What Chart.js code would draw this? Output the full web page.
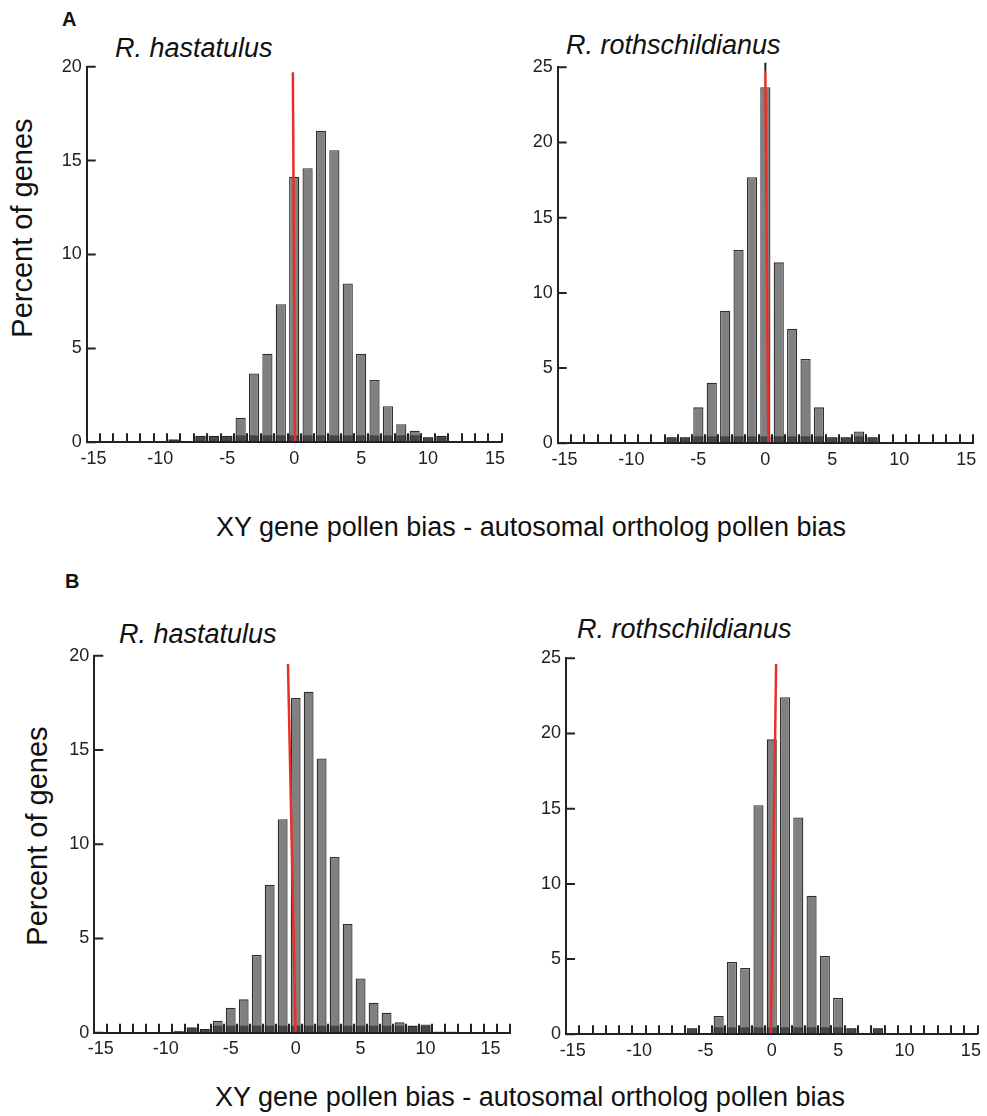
<!DOCTYPE html>
<html>
<head>
<meta charset="utf-8">
<script src="https://cdn.jsdelivr.net/npm/chart.js@4.4.1/dist/chart.umd.min.js"></script>
<style>
  html, body { margin: 0; padding: 0; background: #fff; }
  body { width: 987px; height: 1116px; position: relative; overflow: hidden;
         font-family: "Liberation Sans", Arial, Helvetica, sans-serif; color: #111; }
  .t { position: absolute; white-space: nowrap; line-height: 1; }
  .panel { font-weight: bold; font-size: 20px; }
  .sp { font-style: italic; font-size: 27px; }
  .xt { font-size: 27px; transform: translateX(-50%); }
  .yt { font-size: 29px; transform: translate(-50%, -50%) rotate(-90deg); }
  canvas { position: absolute; }
</style>
</head>
<body>
<div class="t panel" style="left:62px; top:9px;">A</div>
<div class="t panel" style="left:65px; top:571px;">B</div>

<div class="t sp" style="left:115px; top:35px;">R. hastatulus</div>
<div class="t sp" style="left:566px; top:32px;">R. rothschildianus</div>
<div class="t sp" style="left:119px; top:621px;">R. hastatulus</div>
<div class="t sp" style="left:577px; top:616px;">R. rothschildianus</div>

<div class="t yt" style="left:22px; top:228px;">Percent of genes</div>
<div class="t yt" style="left:37px; top:836px;">Percent of genes</div>

<div class="t xt" style="left:531px; top:514px;">XY gene pollen bias - autosomal ortholog pollen bias</div>
<div class="t xt" style="left:530px; top:1084px;">XY gene pollen bias - autosomal ortholog pollen bias</div>

<canvas id="cA1" width="510" height="450" style="left:20px; top:40px;"></canvas>
<canvas id="cA2" width="497" height="450" style="left:490px; top:40px;"></canvas>
<canvas id="cB1" width="510" height="450" style="left:20px; top:630px;"></canvas>
<canvas id="cB2" width="497" height="450" style="left:490px; top:630px;"></canvas>

<script>
// ---------------- DATA ----------------
// histogram bin centres (units of the x axis)
const bins = [-15,-14,-13,-12,-11,-10,-9,-8,-7,-6,-5,-4,-3,-2,-1,0,1,2,3,4,5,6,7,8,9,10,11,12,13,14,15];
// labelled x ticks and y ticks
const xTickLabels = [-15,-10,-5,0,5,10,15];
const yTicks20 = [0,5,10,15,20];
const yTicks25 = [0,5,10,15,20,25];

// Panel A – percent of genes per bin
const hastatulusA = [null,null,null,null,null,null,0.15,0.05,0.34,0.34,0.34,1.31,3.67,4.72,7.35,14.14,14.59,16.59,15.55,8.46,4.72,3.32,1.92,0.96,0.62,0.27,0.34,0.05,0.05,null,null];
const rothschildianusA = [null,null,null,null,null,null,null,null,0.4,0.4,2.39,4.03,8.82,12.85,17.69,23.67,12.03,7.62,5.61,2.39,0.4,0.4,0.78,0.4,null,null,null,null,null,null,null];
// Panel B – percent of genes per bin
const hastatulusB = [null,null,null,null,null,null,0.08,0.28,0.19,0.64,1.33,1.77,4.12,7.85,11.32,17.75,18.09,14.55,9.32,5.76,2.88,1.59,1.06,0.55,0.37,0.44,0.05,0.05,null,null,null];
const rothschildianusB = [null,null,null,null,null,null,null,null,null,0.4,null,1.22,4.81,4.41,15.23,19.61,22.41,14.41,9.22,5.21,2.42,0.4,null,0.4,null,null,null,null,null,null,null];

// red reference lines: [top, bottom] x and y values
const redX_hastA = [-0.1, 0.06];   const redY_hastA = [19.7, 0];
const redX_rothA = [0.0, 0.22];    const redY_rothA = [24.7, 0];
const blackX_rothA = [0.0, 0.0];   const blackY_rothA = [25.3, 24.7];
const redX_hastB = [-0.59, 0.0];   const redY_hastB = [19.56, 0];
const redX_rothB = [0.33, -0.07];  const redY_rothB = [24.62, 0];

// ---------------- DRAWING ----------------
const INK = '#222222';
const FONT = '"Liberation Sans", Arial, Helvetica, sans-serif';

const axisDeco = {
  id: 'axisDeco',
  afterDatasetDraw(chart, args) {
    if (args.index !== 0) return;
    const { ctx, chartArea: a, scales: { x, y } } = chart;
    const ds = chart.data.datasets[0].data;
    ctx.save();
    // dark foot on each bar
    ctx.fillStyle = 'rgba(30,30,30,0.6)';
    args.meta.data.forEach((el, i) => {
      if (ds[i].y == null) return;
      const p = el.getProps(['x', 'y', 'base', 'width'], true);
      const h = Math.min(7, p.base - p.y);
      ctx.fillRect(p.x - p.width / 2, p.base - h, p.width, h);
    });
    // inward minor ticks on x axis at bin edges
    ctx.strokeStyle = INK;
    ctx.lineWidth = 2;
    ctx.beginPath();
    for (let v = x.min + 1; v <= x.max + 1e-6; v += 1) {
      const px = Math.round(x.getPixelForValue(v));
      ctx.moveTo(px, a.bottom);
      ctx.lineTo(px, a.bottom - 9);
    }
    // inward ticks on y axis
    y.ticks.forEach(t => {
      const py = y.getPixelForValue(t.value);
      ctx.moveTo(a.left, py);
      ctx.lineTo(a.left + 9, py);
    });
    ctx.stroke();
    ctx.restore();
  }
};

function makeChart(id, values, yTicks, yMax, xMax, lines, canvasBox, area) {
  const [cl, ct, cw, ch] = canvasBox;
  const [L, R, T, B] = area;
  const yW = L - cl, padTop = T - ct, padRight = cl + cw - R, xH = 40, padBottom = ct + ch - B - xH;
  const datasets = [{
    type: 'bar',
    data: bins.map((b, i) => ({ x: b, y: values[i] })),
    backgroundColor: '#808080',
    borderColor: '#2e2e2e',
    borderWidth: 1.3,
    barPercentage: 0.76,
    categoryPercentage: 1.0,
    order: 2
  }];
  lines.forEach(l => datasets.push({
    type: 'line',
    data: l.xs.map((xv, i) => ({ x: xv, y: l.ys[i] })),
    borderColor: l.color,
    borderWidth: l.width,
    pointRadius: 0,
    fill: false,
    clip: false,
    order: 0
  }));
  return new Chart(document.getElementById(id), {
    type: 'bar',
    data: { datasets },
    plugins: [axisDeco],
    options: {
      responsive: false,
      animation: false,
      devicePixelRatio: 1,
      layout: { padding: { left: 0, top: padTop, right: padRight, bottom: padBottom } },
      plugins: { legend: { display: false }, tooltip: { enabled: false } },
      scales: {
        x: {
          type: 'linear',
          min: -15.5, max: xMax,
          offset: false,
          grid: { display: false, drawTicks: false },
          border: { display: true, color: INK, width: 2, z: 1 },
          afterBuildTicks: s => { s.ticks = xTickLabels.map(v => ({ value: v })); },
          afterFit: s => { s.height = xH; },
          ticks: { color: INK, font: { family: FONT, size: 18 }, padding: 6, maxRotation: 0, autoSkip: false }
        },
        y: {
          type: 'linear',
          min: 0, max: yMax,
          grid: { display: false, drawTicks: false },
          border: { display: true, color: INK, width: 2, z: 1 },
          afterBuildTicks: s => { s.ticks = yTicks.map(v => ({ value: v })); },
          afterFit: s => { s.width = yW; },
          ticks: { color: INK, font: { family: FONT, size: 18 }, padding: 5 }
        }
      }
    }
  });
}

const RED = '#e8302a';
makeChart('cA1', hastatulusA, yTicks20, 20, 15.5,
  [{ xs: redX_hastA, ys: redY_hastA, color: RED, width: 2.5 }],
  [20, 40, 510, 450], [86.7, 501.7, 66.7, 442.3]);
makeChart('cA2', rothschildianusA, yTicks25, 25, 15.5,
  [{ xs: blackX_rothA, ys: blackY_rothA, color: INK, width: 2 },
   { xs: redX_rothA, ys: redY_rothA, color: RED, width: 2.5 }],
  [490, 40, 497, 450], [557.7, 973, 67.3, 443.3]);
makeChart('cB1', hastatulusB, yTicks20, 20, 16.5,
  [{ xs: redX_hastB, ys: redY_hastB, color: RED, width: 2.5 }],
  [20, 630, 510, 450], [94.3, 510, 655.7, 1032.7]);
makeChart('cB2', rothschildianusB, yTicks25, 25, 15.5,
  [{ xs: redX_rothB, ys: redY_rothB, color: RED, width: 2.5 }],
  [490, 630, 497, 450], [566, 980.3, 658.3, 1034.3]);
</script>
</body>
</html>
